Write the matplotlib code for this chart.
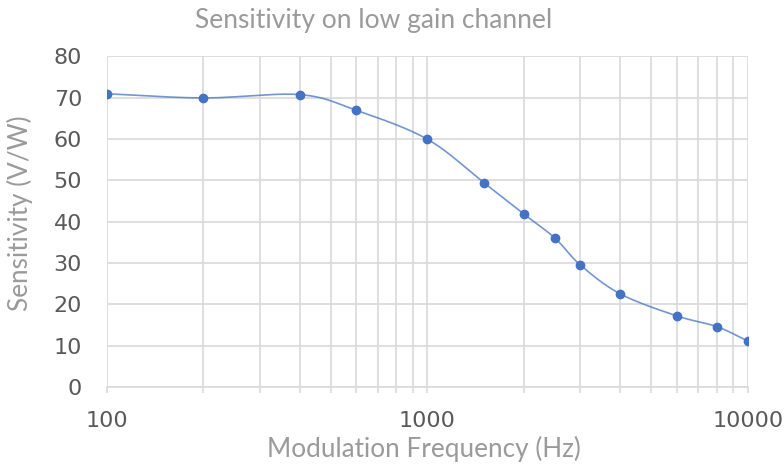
import numpy as np
import matplotlib
matplotlib.use("Agg")
import matplotlib.pyplot as plt
from matplotlib.ticker import FixedLocator, NullFormatter

# data
freq_hz = [100, 200, 400, 600, 1000, 1500, 2000, 2500, 3000, 4000, 6000, 8000, 10000]
sensitivity = [70.9, 69.9, 70.7, 66.9, 59.9, 49.4, 41.8, 36.0, 29.5, 22.5, 17.2, 14.6, 11.1]
y_ticks = [0, 10, 20, 30, 40, 50, 60, 70, 80]
x_ticks = [100, 1000, 10000]
x_tick_labels = ["100", "1000", "10000"]

line_color = "#4472C4"
label_gray = "#595959"
title_gray = "#9a9a9a"
grid_gray = "#d9d9d9"


def smooth(xs, ys, n=30):
    # catmull-rom through the points, in log-x space (like excel's smoothed line)
    lx = np.log10(xs)
    ys = np.asarray(ys, float)
    px = np.concatenate([[2 * lx[0] - lx[1]], lx, [2 * lx[-1] - lx[-2]]])
    py = np.concatenate([[2 * ys[0] - ys[1]], ys, [2 * ys[-1] - ys[-2]]])
    ox, oy = [], []
    t = np.linspace(0, 1, n, endpoint=False)
    for i in range(1, len(px) - 2):
        for arr, out in ((px, ox), (py, oy)):
            p0, p1, p2, p3 = arr[i - 1], arr[i], arr[i + 1], arr[i + 2]
            out.extend(0.5 * ((2 * p1) + (-p0 + p2) * t
                              + (2 * p0 - 5 * p1 + 4 * p2 - p3) * t ** 2
                              + (-p0 + 3 * p1 - 3 * p2 + p3) * t ** 3))
    ox.append(lx[-1])
    oy.append(ys[-1])
    return 10 ** np.array(ox), np.array(oy)


fig = plt.figure(figsize=(7.84, 4.68), dpi=100)
ax = fig.add_axes([0.1365, 0.173, 0.8175, 0.707])

sx, sy = smooth(freq_hz, sensitivity)
ax.plot(sx, sy, color=line_color, lw=1.2, alpha=0.75, zorder=3)
ax.plot(freq_hz, sensitivity, "o", color=line_color, ms=6, zorder=4)

ax.set_xscale("log")
ax.set_xlim(100, 10000)
ax.set_ylim(0, 80)
ax.xaxis.set_major_locator(FixedLocator(x_ticks))
ax.set_xticklabels(x_tick_labels)
minors = [m * d for d in (100, 1000) for m in range(2, 10)]
ax.xaxis.set_minor_locator(FixedLocator(minors))
ax.xaxis.set_minor_formatter(NullFormatter())
ax.set_yticks(y_ticks)

ax.grid(True, which="both", axis="x", color=grid_gray, lw=1.2)
ax.grid(True, which="major", axis="y", color=grid_gray, lw=1.2)
ax.set_axisbelow(True)

for s in ("top", "right", "left"):
    ax.spines[s].set_visible(False)
ax.spines["bottom"].set_color(grid_gray)
ax.spines["bottom"].set_linewidth(1.2)

ax.tick_params(axis="x", which="both", direction="out", length=4, color=grid_gray,
               width=1.2, pad=13, labelsize=16, labelcolor=label_gray)
ax.tick_params(axis="y", length=0, pad=18, labelsize=16, labelcolor=label_gray)
for lab in ax.get_xticklabels() + ax.get_yticklabels():
    lab.set_fontfamily("DejaVu Sans")

# titles placed by figure coords
fig.text(0.541, 0.041, "Modulation Frequency (Hz)", fontsize=18.8, color=title_gray,
         family="Lato", ha="center", va="center")
fig.text(0.0255, 0.545, "Sensitivity (V/W)", fontsize=18.8, color=title_gray,
         family="Lato", ha="center", va="center", rotation=90)
fig.text(0.476, 0.957, "Sensitivity on low gain channel", fontsize=19,
         color=title_gray, family="Lato", ha="center", va="center")

fig.savefig("out.png", dpi=100)
